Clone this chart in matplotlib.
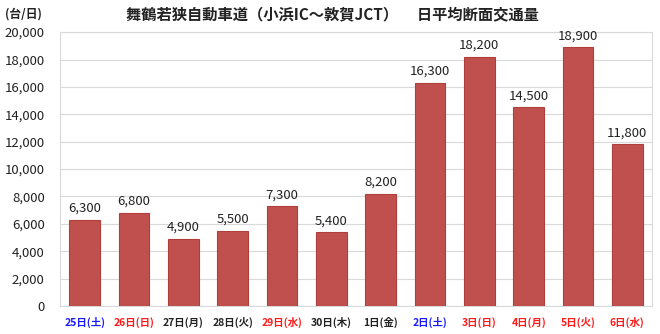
import matplotlib
matplotlib.use("Agg")
import matplotlib.pyplot as plt

plt.rcParams['font.family'] = ['Noto Sans CJK JP', 'DejaVu Sans']

days = ['25日(土)', '26日(日)', '27日(月)', '28日(火)', '29日(水)', '30日(木)',
        '1日(金)', '2日(土)', '3日(日)', '4日(月)', '5日(火)', '6日(水)']
traffic = [6300, 6800, 4900, 5500, 7300, 5400, 8200, 16300, 18200, 14500, 18900, 11800]
day_colors = ['#1a1aff', '#ff1a1a', '#222222', '#222222', '#ff1a1a', '#222222',
              '#222222', '#1a1aff', '#ff1a1a', '#ff1a1a', '#ff1a1a', '#ff1a1a']
yticks = list(range(0, 20001, 2000))

fig = plt.figure(figsize=(6.6, 3.34), dpi=100)
ax = fig.add_axes([0.0909, 0.0838, 0.897, 0.82])

x = range(len(days))
ax.bar(x, traffic, width=0.62, color='#c0504d', edgecolor='#b03f3c', linewidth=0.8, zorder=3)
for i, v in zip(x, traffic):
    ax.text(i, v + 350, f'{v:,}', ha='center', va='bottom', fontsize=9.5, color='#222222')

ax.set_xlim(-0.5, len(days) - 0.5)
ax.set_ylim(0, 20000)
ax.set_yticks(yticks)
ax.set_yticklabels([f'{t:,}' for t in yticks], fontsize=9.5, color='#222222')
ax.set_xticks(list(x))
ax.set_xticklabels(days, fontsize=7.5, fontweight='bold')
for lbl, c in zip(ax.get_xticklabels(), day_colors):
    lbl.set_color(c)
ax.tick_params(axis='both', length=0)
ax.tick_params(axis='x', pad=8)
ax.tick_params(axis='y', pad=11)
ax.grid(axis='y', color='#d9d9d9', linewidth=0.8, zorder=0)
for s in ax.spines.values():
    s.set_color('#d9d9d9')
    s.set_linewidth(0.8)

fig.text(0.503, 0.957, '舞鶴若狭自動車道（小浜IC～敦賀JCT）　 日平均断面交通量',
         ha='center', va='center', fontsize=11, fontweight='bold', color='#222222')
fig.text(0.036, 0.957, '(台/日)', ha='center', va='center', fontsize=8.5,
         fontweight='bold', color='#222222')

fig.savefig('out.png', dpi=100)
